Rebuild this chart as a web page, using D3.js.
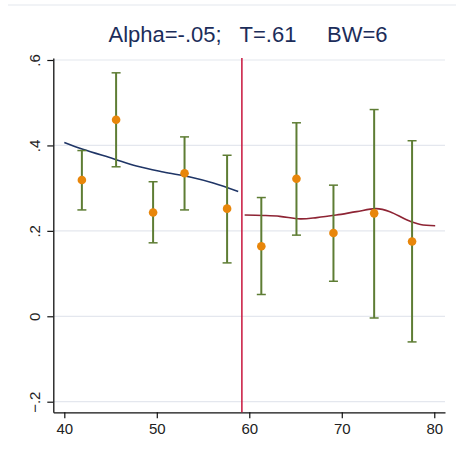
<!DOCTYPE html>
<html>
<head>
<meta charset="utf-8">
<script src="https://d3js.org/d3.v7.min.js"></script>
<style>
  body { margin: 0; background: #fff; }
  text { font-family: "Liberation Sans", Arial, sans-serif; }
</style>
</head>
<body>
<script>

  // bin means with confidence intervals
  var binX   = [41.9, 45.6, 49.6, 53.0, 57.6, 61.3, 65.1, 69.1, 73.5, 77.6];
  var binY   = [0.319, 0.460, 0.243, 0.335, 0.252, 0.164, 0.322, 0.195, 0.241, 0.175];
  var ciLow  = [0.249, 0.350, 0.172, 0.249, 0.125, 0.051, 0.190, 0.082, -0.004, -0.060];
  var ciHigh = [0.388, 0.570, 0.315, 0.420, 0.377, 0.278, 0.453, 0.307, 0.484, 0.411];

  // local fits, left and right of the cutoff
  var leftX  = [40.0, 42.0, 45.3, 47.8, 50.7, 53.6, 56.1, 58.8];
  var leftY  = [0.407, 0.391, 0.369, 0.352, 0.338, 0.326, 0.312, 0.292];
  var rightX = [59.5, 61.5, 63.3, 65.5, 67.3, 69.4, 71.6, 73.7, 75.2, 77.0, 78.5, 80.1];
  var rightY = [0.237, 0.236, 0.234, 0.228, 0.231, 0.237, 0.245, 0.252, 0.245, 0.226, 0.215, 0.212];

  var cutoff = 59.2;
  var xTicks = [40, 50, 60, 70, 80];
  var yTicks = [-0.2, 0, 0.2, 0.4, 0.6];
  var title = "Alpha=-.05;   T=.61     BW=6";

  var w = 456, h = 454;

  var svg = d3.select("body").append("svg")
      .attr("width", w)
      .attr("height", h);

  var x = d3.scaleLinear().domain([38.81, 81.16]).range([53.3, 445]);
  var y = d3.scaleLinear().domain([-0.2248, 0.6047]).range([412.3, 58]);

  // faint outer frame line
  svg.append("line")
      .attr("x1", 8).attr("x2", w).attr("y1", 5).attr("y2", 5)
      .attr("stroke", "#e4e7ee").attr("stroke-width", 1.2);

  // gridlines
  svg.append("g").selectAll("line")
      .data(yTicks)
      .enter().append("line")
      .attr("x1", x.range()[0]).attr("x2", x.range()[1])
      .attr("y1", function(d) { return y(d); })
      .attr("y2", function(d) { return y(d); })
      .attr("stroke", "#e4e7ee")
      .attr("stroke-width", 1.2);

  // axes
  var fmt = function(d) { return d === 0 ? "0" : d3.format(".1f")(d).replace("0.", "."); };

  var gx = svg.append("g")
      .attr("transform", "translate(0," + y.range()[0] + ")")
      .call(d3.axisBottom(x).tickValues(xTicks).tickSize(6).tickSizeOuter(0).tickPadding(5));

  var gy = svg.append("g")
      .attr("transform", "translate(" + x.range()[0] + ",0)")
      .call(d3.axisLeft(y).tickValues(yTicks).tickSize(6).tickSizeOuter(0).tickFormat(fmt));

  [gx, gy].forEach(function(g) {
    g.select(".domain").attr("stroke", "#111").attr("stroke-width", 1.3);
    g.selectAll(".tick line").attr("stroke", "#111").attr("stroke-width", 1.2);
    g.selectAll("text").attr("fill", "#222").style("font-size", "15px")
      .style("font-family", "'Liberation Sans', Arial, sans-serif");
  });

  gy.selectAll(".tick text")
      .attr("x", 0).attr("dy", 0)
      .attr("text-anchor", "middle")
      .attr("transform", "translate(-13,0) rotate(-90)");

  // cutoff line
  svg.append("line")
      .attr("x1", x(cutoff)).attr("x2", x(cutoff))
      .attr("y1", y.range()[1]).attr("y2", y.range()[0])
      .attr("stroke", "#c8143c").attr("stroke-width", 1.5);

  // fitted lines
  var line = d3.line()
      .x(function(d) { return x(d[0]); })
      .y(function(d) { return y(d[1]); })
      .curve(d3.curveCatmullRom);

  svg.append("path")
      .datum(d3.zip(leftX, leftY))
      .attr("d", line)
      .attr("fill", "none").attr("stroke", "#1f3566").attr("stroke-width", 1.6);

  svg.append("path")
      .datum(d3.zip(rightX, rightY))
      .attr("d", line)
      .attr("fill", "none").attr("stroke", "#8e2434").attr("stroke-width", 1.6);

  // error bars
  var bins = binX.map(function(v, i) {
    return { x: v, y: binY[i], lo: ciLow[i], hi: ciHigh[i] };
  });

  var eb = svg.append("g").selectAll("g")
      .data(bins)
      .enter().append("g")
      .attr("stroke", "#5e7d34").attr("stroke-width", 2);

  eb.append("line")
      .attr("x1", function(d) { return x(d.x); })
      .attr("x2", function(d) { return x(d.x); })
      .attr("y1", function(d) { return y(d.lo); })
      .attr("y2", function(d) { return y(d.hi); });

  eb.selectAll(".cap")
      .data(function(d) { return [[d.x, d.lo], [d.x, d.hi]]; })
      .enter().append("line")
      .attr("x1", function(d) { return x(d[0]) - 4.5; })
      .attr("x2", function(d) { return x(d[0]) + 4.5; })
      .attr("y1", function(d) { return y(d[1]); })
      .attr("y2", function(d) { return y(d[1]); })
      .attr("stroke-width", 1.5);

  // points
  svg.append("g").selectAll("circle")
      .data(bins)
      .enter().append("circle")
      .attr("cx", function(d) { return x(d.x); })
      .attr("cy", function(d) { return y(d.y); })
      .attr("r", 4.3)
      .attr("fill", "#e8860a");

  // title
  svg.append("text")
      .attr("x", 248).attr("y", 42)
      .attr("text-anchor", "middle")
      .attr("fill", "#1c2d5a")
      .style("font-size", "22px")
      .style("white-space", "pre")
      .attr("xml:space", "preserve")
      .text(title);

</script>
</body>
</html>
